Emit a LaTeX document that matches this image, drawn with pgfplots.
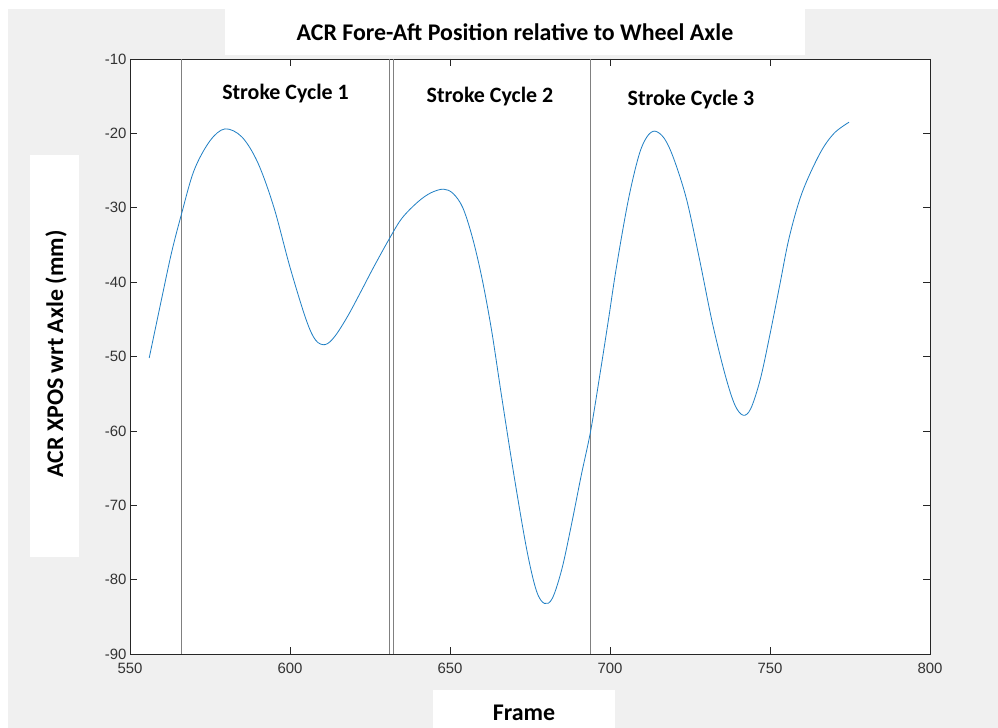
\documentclass[border=0pt]{standalone}
\usepackage{fontspec}
\usepackage{pgfplots}
\pgfplotsset{compat=1.18}
\setmainfont{Carlito}
\newfontfamily\tickfont{Liberation Sans}
\definecolor{bg}{HTML}{F0F0F0}
\definecolor{axcol}{HTML}{262626}
\definecolor{ticklab}{HTML}{333333}
\definecolor{mlblue}{HTML}{1F7FC4}
\begin{document}
\begin{tikzpicture}[x=1bp,y=1bp]
\useasboundingbox (0,0) rectangle (998,728);
\fill[white] (0,0) rectangle (998,728);
\fill[bg] (8,0) rectangle (998,719);
\fill[white] (225,673) rectangle (805,719);
\node[font=\bfseries\fontsize{24}{28}\selectfont] at (515,696) {ACR Fore-Aft Position relative to Wheel Axle};
\fill[white] (30,171) rectangle (79,573);
\node[rotate=90, font=\bfseries\fontsize{24}{28}\selectfont] at (56,374) {ACR XPOS wrt Axle (mm)};
\fill[white] (433,0) rectangle (615,38);
\node[font=\bfseries\fontsize{24}{28}\selectfont] at (524,15) {Frame};
\begin{axis}[
  at={(130bp,74bp)}, anchor=south west,
  scale only axis, width=800bp, height=595bp,
  xmin=550, xmax=800, ymin=-90, ymax=-10,
  xtick={550,600,...,800}, ytick={-90,-80,...,-10},
  tick align=inside, major tick length=7bp,
  axis line style={axcol, line width=0.6bp},
  every tick/.style={axcol, line width=0.6bp},
  axis background/.style={fill=white},
  /pgf/number format/assume math mode=true,
  tick label style={font=\tickfont\fontsize{15}{15}\selectfont, text=ticklab},
  xticklabel style={yshift=-6bp},
  clip=true,
]
\addplot[black!50, line width=0.8bp] coordinates {(566,-90) (566,-10)};
\addplot[black!50, line width=0.8bp] coordinates {(631,-90) (631,-10)};
\addplot[black!50, line width=0.8bp] coordinates {(632.2,-90) (632.2,-10)};
\addplot[black!50, line width=0.8bp] coordinates {(693.9,-90) (693.9,-10)};
\addplot[mlblue, line width=0.8bp, smooth, tension=0.55] coordinates {
(556,-50.2) (560,-42) (563,-36) (566,-31) (570,-25) (575,-21) (579.7,-19.4)
(585,-20.5) (590,-24) (595,-30) (600,-38) (605,-45) (608,-47.8) (611,-48.4)
(614,-47.3) (618,-44.6) (622,-41.4) (626,-38.1) (631,-34.2) (635,-31.4) (640,-29.2)
(644,-28) (648,-27.5) (651,-28.1) (654,-30) (657,-34) (660,-39.5) (663,-46.5) (666,-55)
(670,-66) (674,-76) (677,-81.5) (679.5,-83.2) (682,-82.5) (685,-78.5) (688,-72.5)
(691,-66) (694,-59.9) (697,-52) (699.5,-45.1) (702,-38) (705.7,-29) (709,-23)
(711.5,-20.5) (714,-19.7) (717,-20.7) (720,-23.5) (724,-29) (728,-37) (732,-45.5)
(736,-52.5) (739,-56.5) (741.6,-57.9) (744,-57) (747,-53) (750,-47) (753,-40.5)
(756,-34) (760,-28) (765.6,-22.7) (770,-20) (774.7,-18.5)
};
\node[font=\bfseries\fontsize{22}{26}\selectfont] at (axis cs:598.6,-14.6) {Stroke Cycle 1};
\node[font=\bfseries\fontsize{22}{26}\selectfont] at (axis cs:662.5,-15.0) {Stroke Cycle 2};
\node[font=\bfseries\fontsize{22}{26}\selectfont] at (axis cs:725.3,-15.45) {Stroke Cycle 3};
\end{axis}
\end{tikzpicture}
\end{document}
